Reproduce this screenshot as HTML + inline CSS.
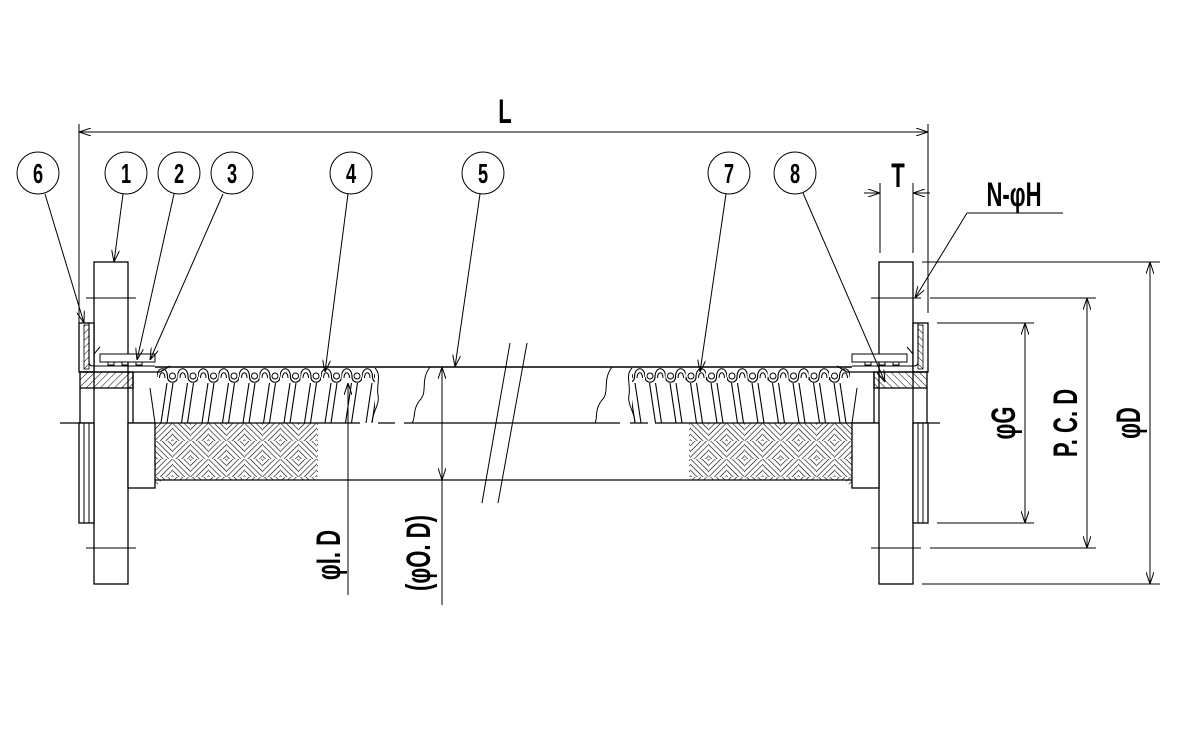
<!DOCTYPE html>
<html><head><meta charset="utf-8"><style>
html,body{margin:0;padding:0;background:#fff;}
svg{display:block;}
text{font-family:"Liberation Sans",sans-serif;font-weight:bold;fill:#000;}
</style></head><body>
<svg width="1200" height="750" viewBox="0 0 1200 750" xmlns="http://www.w3.org/2000/svg">
<defs>
<marker id="ar" viewBox="0 0 12 8" refX="12" refY="4" markerWidth="12" markerHeight="8" orient="auto-start-reverse" markerUnits="userSpaceOnUse">
<path d="M0,0 L12,4 L0,8" fill="none" stroke="#000" stroke-width="1"/>
</marker>
<pattern id="h45" width="5" height="5" patternUnits="userSpaceOnUse" patternTransform="rotate(45)">
<line x1="0" y1="0" x2="0" y2="5" stroke="#000" stroke-width="1"/>
</pattern>
<pattern id="hA" width="4" height="4" patternUnits="userSpaceOnUse" patternTransform="rotate(45)">
<line x1="0" y1="0" x2="0" y2="4" stroke="#000" stroke-width="1.2"/>
</pattern>
<pattern id="hB" width="4" height="4" patternUnits="userSpaceOnUse" patternTransform="rotate(-45)">
<line x1="0" y1="0" x2="0" y2="4" stroke="#000" stroke-width="1.2"/>
</pattern>
<pattern id="braid" width="36" height="36" patternUnits="userSpaceOnUse" patternTransform="translate(155,423)">
<rect x="0" y="0" width="18" height="18" fill="url(#hA)"/>
<rect x="18" y="0" width="18" height="18" fill="url(#hB)"/>
<rect x="0" y="18" width="18" height="18" fill="url(#hB)"/>
<rect x="18" y="18" width="18" height="18" fill="url(#hA)"/>
</pattern>
<pattern id="corr" width="20.5" height="20" patternUnits="userSpaceOnUse" patternTransform="translate(157,365)">
<path d="M0,12 C0,1 10.5,1 10.5,12 C10.5,19 20.5,19 20.5,12" fill="none" stroke="#000" stroke-width="1.1"/>
<path d="M2.5,13 C2.5,6 8,6 8,13" fill="none" stroke="#000" stroke-width="1"/>
<circle cx="15.5" cy="11" r="3" fill="none" stroke="#000" stroke-width="1"/>
</pattern>
<pattern id="helix" width="20.5" height="40" patternUnits="userSpaceOnUse" patternTransform="translate(157,383)">
<line x1="10" y1="0" x2="4" y2="40" stroke="#000" stroke-width="1.1"/>
<line x1="16" y1="0" x2="10" y2="40" stroke="#000" stroke-width="1.1"/>
</pattern>
<g id="endL" fill="none" stroke="#000" stroke-width="1.3">
<rect x="94" y="262" width="34" height="322" fill="#fff"/>
<line x1="86" y1="298" x2="136" y2="298" stroke-width="1"/>
<line x1="86" y1="548" x2="136" y2="548" stroke-width="1"/>
<rect x="79" y="323" width="15" height="49" fill="#fff"/>
<rect x="84" y="325" width="5" height="44" fill="url(#h45)" stroke-width="0.8"/>
<path d="M89,323 V362 Q89,366 93,366 H155" stroke-width="1.1"/>
<path d="M79,372 H160 L170,366"/>
<rect x="100" y="354" width="55" height="8" fill="#fff" stroke-width="1"/>
<path d="M108,362 v3 h6 v-3 M122,362 v3 h6 v-3 M136,362 v3 h6 v-3" stroke-width="1"/>
<path d="M94,354 L100,347" stroke-width="1"/>
<rect x="80" y="372" width="53" height="16" fill="url(#h45)"/>
<line x1="133" y1="372" x2="133" y2="423"/>
<line x1="80" y1="388" x2="80" y2="423"/>
<rect x="79" y="423" width="15" height="100" fill="#fff"/>
<line x1="84" y1="423" x2="84" y2="523" stroke-width="1"/>
<line x1="89" y1="423" x2="89" y2="523" stroke-width="1"/>
<rect x="128" y="423" width="27" height="65" fill="#fff"/>
<rect x="157" y="366" width="218" height="20" fill="url(#corr)" stroke="none"/>
<rect x="157" y="383" width="218" height="40" fill="url(#helix)" stroke="none"/>
<line x1="155" y1="423" x2="150" y2="388" stroke-width="1"/>
<path d="M375,368 C382,375 376,385 378,395 C380,405 372,412 372,423" stroke-width="1"/>
<path d="M155,423 H318 V480 H162 L155,488 Z" fill="url(#braid)" stroke="none"/>
<line x1="155" y1="480" x2="162" y2="480" stroke-width="1"/>
</g>
</defs>

<g fill="none" stroke="#000" stroke-width="1.2">
<line x1="155" y1="367" x2="852" y2="367" stroke-width="1.4"/>
<line x1="155" y1="480" x2="852" y2="480" stroke-width="1.2"/>
<line x1="60" y1="423" x2="360" y2="423" stroke-width="1.2"/>
<line x1="378" y1="423" x2="395" y2="423"/><line x1="404" y1="423" x2="620" y2="423"/>
<line x1="630" y1="423" x2="648" y2="423"/><line x1="655" y1="423" x2="940" y2="423"/>
<path d="M430,367 C420,380 428,392 420,400 C412,410 416,418 412,423" stroke-width="1"/>
<path d="M612,367 C602,380 610,392 602,400 C594,410 598,418 595,423" stroke-width="1"/>
<line x1="510" y1="343" x2="482" y2="503" stroke-width="1"/>
<line x1="527" y1="343" x2="498" y2="503" stroke-width="1"/>
</g>

<use href="#endL"/>
<use href="#endL" transform="translate(1007,0) scale(-1,1)"/>

<g fill="none" stroke="#000" stroke-width="1">
<line x1="79" y1="124" x2="79" y2="323"/>
<line x1="928" y1="124" x2="928" y2="313"/>
<line x1="79" y1="132" x2="928" y2="132" marker-start="url(#ar)" marker-end="url(#ar)"/>
<line x1="880" y1="183" x2="880" y2="253"/>
<line x1="913" y1="183" x2="913" y2="253"/>
<line x1="864" y1="193" x2="880" y2="193" marker-end="url(#ar)"/>
<line x1="930" y1="193" x2="913" y2="193" marker-end="url(#ar)"/>
<line x1="1063" y1="213" x2="967" y2="213"/>
<line x1="967" y1="213" x2="915" y2="298" marker-end="url(#ar)"/>
<line x1="922" y1="262" x2="1160" y2="262"/>
<line x1="930" y1="298" x2="1096" y2="298"/>
<line x1="937" y1="323" x2="1034" y2="323"/>
<line x1="937" y1="523" x2="1034" y2="523"/>
<line x1="930" y1="548" x2="1096" y2="548"/>
<line x1="922" y1="584" x2="1160" y2="584"/>
<line x1="1025" y1="323" x2="1025" y2="523" marker-start="url(#ar)" marker-end="url(#ar)"/>
<line x1="1087" y1="298" x2="1087" y2="548" marker-start="url(#ar)" marker-end="url(#ar)"/>
<line x1="1150" y1="262" x2="1150" y2="584" marker-start="url(#ar)" marker-end="url(#ar)"/>
<line x1="348" y1="595" x2="348" y2="383" marker-end="url(#ar)"/>
<line x1="442" y1="367" x2="442" y2="605"/>
<line x1="442" y1="423" x2="442" y2="367" marker-end="url(#ar)"/>
<line x1="442" y1="423" x2="442" y2="480" marker-end="url(#ar)"/>
<line x1="45" y1="194" x2="84" y2="323" marker-end="url(#ar)"/>
<line x1="123" y1="194" x2="114" y2="262" marker-end="url(#ar)"/>
<line x1="174" y1="194" x2="137" y2="360" marker-end="url(#ar)"/>
<line x1="223" y1="194" x2="150" y2="360" marker-end="url(#ar)"/>
<line x1="348" y1="194" x2="325" y2="372" marker-end="url(#ar)"/>
<line x1="480" y1="194" x2="455" y2="367" marker-end="url(#ar)"/>
<line x1="726" y1="194" x2="700" y2="372" marker-end="url(#ar)"/>
<line x1="803" y1="193" x2="885" y2="382" marker-end="url(#ar)"/>
<circle cx="38" cy="173" r="21"/>
<circle cx="126" cy="173" r="21"/>
<circle cx="179" cy="173" r="21"/>
<circle cx="232" cy="173" r="21"/>
<circle cx="351" cy="173" r="21"/>
<circle cx="483" cy="173" r="21"/>
<circle cx="729" cy="173" r="21"/>
<circle cx="795" cy="173" r="21"/>
</g>

<g font-size="28" text-anchor="middle">
<text transform="translate(38,183) scale(0.65,1)">6</text>
<text transform="translate(126,183) scale(0.65,1)">1</text>
<text transform="translate(179,183) scale(0.65,1)">2</text>
<text transform="translate(232,183) scale(0.65,1)">3</text>
<text transform="translate(351,183) scale(0.65,1)">4</text>
<text transform="translate(483,183) scale(0.65,1)">5</text>
<text transform="translate(729,183) scale(0.65,1)">7</text>
<text transform="translate(795,183) scale(0.65,1)">8</text>
</g>
<g font-size="34" text-anchor="middle">
<text transform="translate(505,123) scale(0.65,1)">L</text>
<text transform="translate(898,187) scale(0.65,1)">T</text>
<text transform="translate(1014,206) scale(0.65,1)">N-φH</text>
<text transform="translate(1015,423) rotate(-90) scale(0.65,1)">φG</text>
<text transform="translate(1077,423) rotate(-90) scale(0.65,1)">P. C. D</text>
<text transform="translate(1140,423) rotate(-90) scale(0.65,1)">φD</text>
<text transform="translate(340,555) rotate(-90) scale(0.65,1)">φI. D</text>
<text transform="translate(430,553) rotate(-90) scale(0.65,1)">(φO. D)</text>
</g>
</svg>
</body></html>
